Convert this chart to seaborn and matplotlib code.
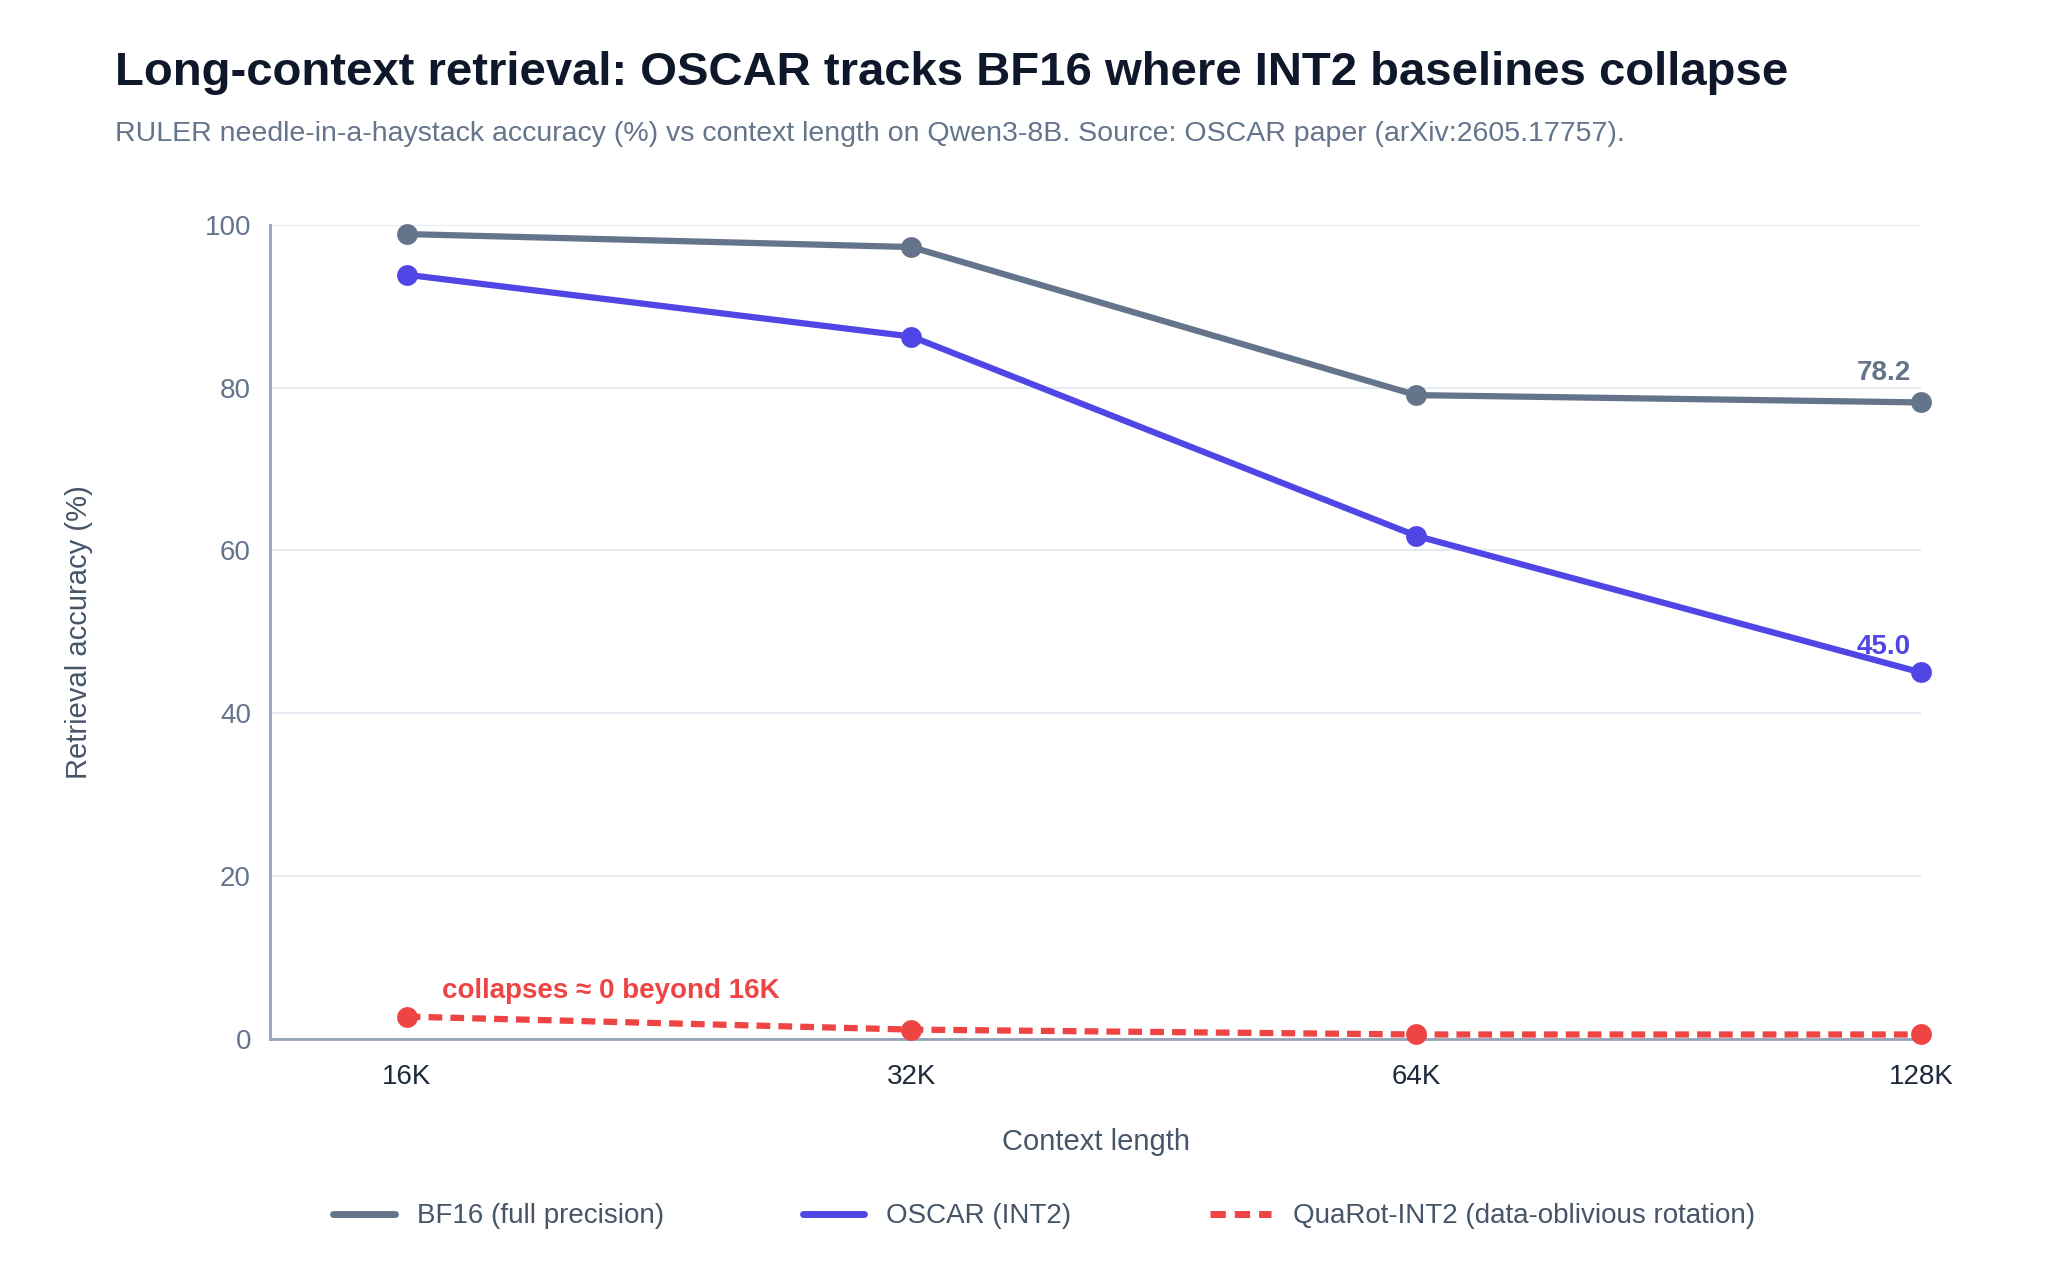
import seaborn as sns
import matplotlib.pyplot as plt
import pandas as pd
from matplotlib.lines import Line2D

contexts = ["16K", "32K", "64K", "128K"]
bf16 = [98.9, 97.3, 79.1, 78.2]
oscar = [93.9, 86.3, 61.8, 45.0]
quarot = [2.7, 1.1, 0.5, 0.5]

series_names = ["BF16 (full precision)", "OSCAR (INT2)", "QuaRot-INT2 (data-oblivious rotation)"]
colors = ["#64748b", "#4f46e5", "#ef4444"]

rows = []
for name, vals in zip(series_names, [bf16, oscar, quarot]):
    for i, v in enumerate(vals):
        rows.append({"pos": i, "acc": v, "series": name})
df = pd.DataFrame(rows)

sns.set_theme(style="white")
plt.rcParams['font.family'] = ['Liberation Sans', 'DejaVu Sans']

fig = plt.figure(figsize=(20.48, 12.79), dpi=100)
ax = fig.add_axes([0.132, 0.188, 0.806, 0.636])

for name, c in zip(series_names, colors):
    sub = df[df.series == name]
    ls = (0, (2.2, 1.3)) if name.startswith("QuaRot") else "-"
    sns.lineplot(data=sub, x="pos", y="acc", ax=ax, color=c, lw=4.5, linestyle=ls,
                 marker="o", markersize=15, markeredgewidth=0, label=name, legend=False,
                 clip_on=False, zorder=3)

ax.set_xlim(-0.27, 3.0)
ax.set_ylim(0, 100)
ax.set_yticks([0, 20, 40, 60, 80, 100])
ax.set_xticks(range(4))
ax.set_xticklabels(contexts, fontsize=20, color="#1e293b")
ax.tick_params(axis="y", labelsize=20, colors="#64748b", length=0, pad=14)
ax.tick_params(axis="x", length=0, pad=18)
ax.grid(axis="y", color="#e2e8f0", lw=1.3)
for s in ["top", "right"]:
    ax.spines[s].set_visible(False)
ax.spines["left"].set_color("#94a3b8")
ax.spines["bottom"].set_color("#94a3b8")
ax.spines["left"].set_linewidth(2)
ax.spines["bottom"].set_linewidth(2)
ax.set_xlabel("Context length", fontsize=21, color="#475569", labelpad=28)
ax.set_ylabel("Retrieval accuracy (%)", fontsize=21, color="#475569", labelpad=80)

ax.text(3 - 0.02, bf16[3] + 2, f"{bf16[3]:.1f}", ha="right", va="bottom", fontsize=20,
        fontweight="bold", color=colors[0])
ax.text(3 - 0.02, oscar[3] + 1.5, f"{oscar[3]:.1f}", ha="right", va="bottom", fontsize=20,
        fontweight="bold", color=colors[1])
ax.text(0.07, quarot[0] + 1.5, "collapses ≈ 0 beyond 16K", ha="left", va="bottom", fontsize=20,
        fontweight="bold", color=colors[2])

fig.text(0.056, 0.943, "Long-context retrieval: OSCAR tracks BF16 where INT2 baselines collapse",
         fontsize=34, fontweight="bold", color="#0f172a", va="center")
fig.text(0.056, 0.895, "RULER needle-in-a-haystack accuracy (%) vs context length on Qwen3-8B. Source: OSCAR paper (arXiv:2605.17757).",
         fontsize=20.5, color="#64748b", va="center")

handles = [Line2D([], [], color=c, lw=5, linestyle=(0, (2.2, 1.3)) if i == 2 else "-")
           for i, c in enumerate(colors)]
fig.legend(handles, series_names, loc="center", bbox_to_anchor=(0.51, 0.049), ncol=3,
           frameon=False, fontsize=20, handlelength=2.2, columnspacing=5, labelcolor="#475569")

fig.savefig("out.png", dpi=100)
